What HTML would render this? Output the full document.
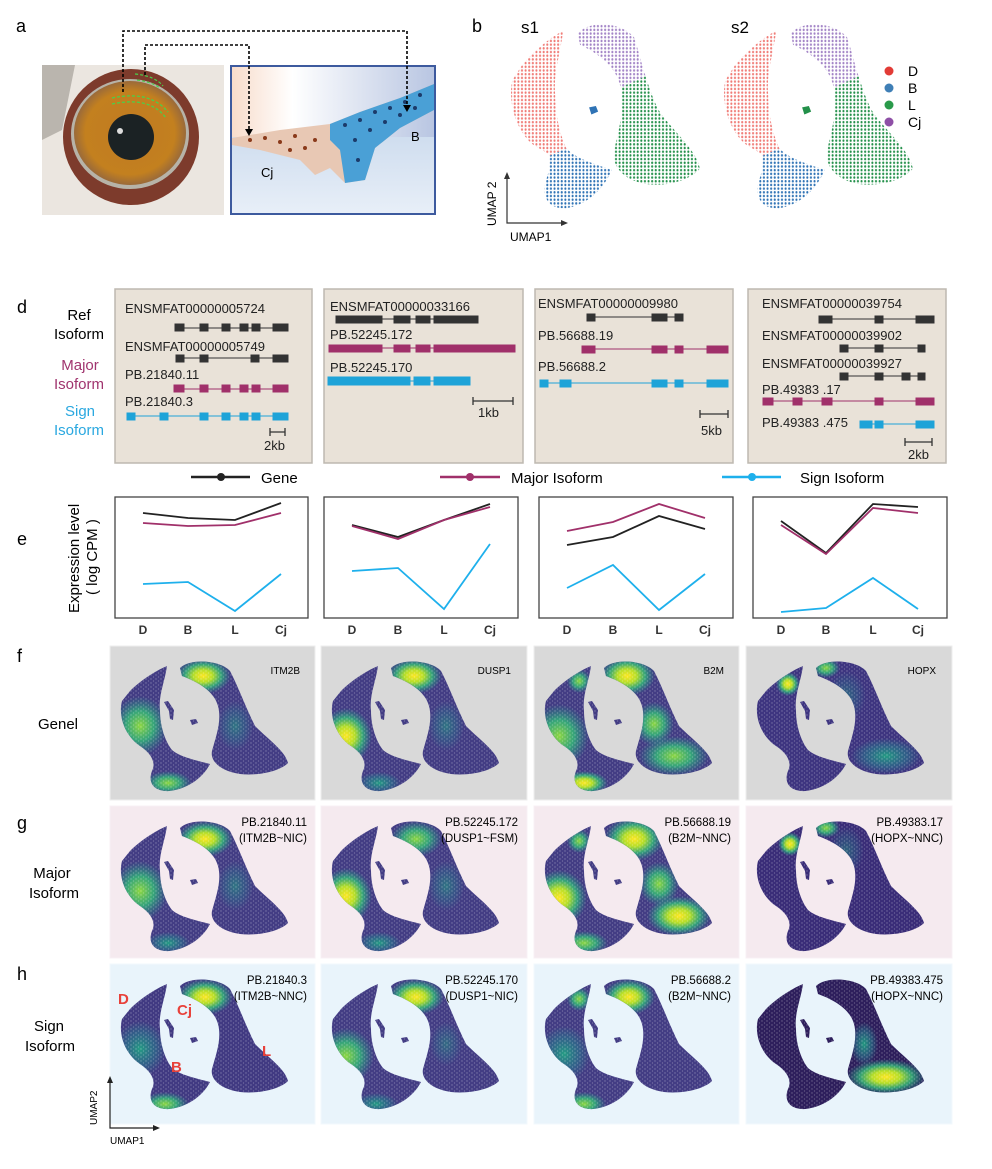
<!DOCTYPE html>
<html><head><meta charset="utf-8"><style>
html,body{margin:0;padding:0;background:#fff;}
svg{display:block;font-family:"Liberation Sans",Arial,sans-serif;}
</style></head><body>
<svg width="992" height="1169" viewBox="0 0 992 1169" xmlns="http://www.w3.org/2000/svg">
<defs>
  <path id="shape" d="M70,22 C80,12 110,14 120,25 C128,40 135,60 145,80 C160,95 175,105 178,117 C170,125 150,130 130,128 C110,125 100,115 102,105 C106,90 112,75 108,60 C104,45 88,36 72,30 Z
   M20,45 C30,35 45,25 57,20 C55,35 48,50 50,65 C50,80 55,95 62,104 C70,111 85,114 100,118 C95,128 82,142 60,145 C42,146 38,135 42,125 C46,117 42,108 30,100 C15,90 8,70 12,55 Z
   M54,56 L58,55 L64,64 L63,74 L60,73 L59,65 Z M80,74 L86,73 L88,77 L82,79 Z"/>
  <clipPath id="clip"><use href="#shape"/></clipPath>
  <path id="cCj" d="M70,22 C80,12 110,14 120,25 C124,35 127,45 130,52 L108,60 C104,45 88,36 72,30 Z"/>
  <path id="cL" d="M130,52 C135,65 140,75 145,80 C160,95 175,105 178,117 C170,125 150,130 130,128 C110,125 100,115 102,105 C106,90 112,75 108,60 Z"/>
  <path id="cD" d="M20,45 C30,35 45,25 57,20 C55,35 48,50 50,65 C50,80 55,95 60,103 L45,108 C40,104 35,103 30,100 C15,90 8,70 12,55 Z"/>
  <path id="cB" d="M60,103 C68,110 85,114 100,118 C95,128 82,142 60,145 C42,146 38,135 42,125 C46,117 45,110 45,108 Z"/>
  <pattern id="pD" width="3.2" height="2.6" patternUnits="userSpaceOnUse"><circle cx="1.4" cy="1.2" r="0.9" fill="#f07b76"/></pattern>
  <pattern id="pB" width="3.2" height="2.6" patternUnits="userSpaceOnUse"><circle cx="1.4" cy="1.2" r="0.9" fill="#2f73b5"/></pattern>
  <pattern id="pL" width="3.2" height="2.6" patternUnits="userSpaceOnUse"><circle cx="1.4" cy="1.2" r="0.9" fill="#23904a"/></pattern>
  <pattern id="pC" width="3.2" height="2.6" patternUnits="userSpaceOnUse"><circle cx="1.4" cy="1.2" r="0.9" fill="#a283c6"/></pattern>
  <pattern id="speck" width="5" height="4" patternUnits="userSpaceOnUse"><circle cx="1" cy="1" r="0.7" fill="#fff"/><circle cx="3.5" cy="3" r="0.6" fill="#fff"/></pattern>
  <radialGradient id="hot"><stop offset="0" stop-color="#fde725"/><stop offset="0.35" stop-color="#b5de2b"/><stop offset="0.65" stop-color="#35b779" stop-opacity="0.85"/><stop offset="1" stop-color="#21918c" stop-opacity="0"/></radialGradient>
  <radialGradient id="grn"><stop offset="0" stop-color="#8fd744"/><stop offset="0.5" stop-color="#35b779" stop-opacity="0.85"/><stop offset="1" stop-color="#21918c" stop-opacity="0"/></radialGradient>
  <radialGradient id="teal"><stop offset="0" stop-color="#22a884" stop-opacity="0.9"/><stop offset="0.6" stop-color="#2a788e" stop-opacity="0.6"/><stop offset="1" stop-color="#2a788e" stop-opacity="0"/></radialGradient>
  <linearGradient id="skyL" x1="0" x2="1"><stop offset="0" stop-color="#f8dccb"/><stop offset="0.3" stop-color="#ffffff"/><stop offset="1" stop-color="#b9c6e2"/></linearGradient>
  <linearGradient id="skyB" x1="0" x2="0" y1="0" y2="1"><stop offset="0" stop-color="#b8cde6"/><stop offset="1" stop-color="#e8eff8"/></linearGradient>
  <radialGradient id="iris"><stop offset="0" stop-color="#c07a22"/><stop offset="0.8" stop-color="#c3801f"/><stop offset="1" stop-color="#9a6a3a"/></radialGradient>
</defs>

<!-- panel a -->
<text x="16" y="32" font-size="18">a</text>
<rect x="42" y="65" width="182" height="150" fill="#ebe6e0"/>
<path d="M42,65 L75,65 L62,130 L42,140 Z" fill="#8a847c" opacity="0.5"/>
<ellipse cx="131" cy="137" rx="68" ry="68" fill="#7d3b2c"/>
<ellipse cx="130" cy="134" rx="59" ry="55" fill="#b7b3a8"/>
<ellipse cx="130" cy="133" rx="56" ry="52" fill="url(#iris)"/>
<circle cx="131" cy="137" r="23" fill="#1b2224"/>
<circle cx="120" cy="131" r="3" fill="#ddd"/>
<path d="M112,98 Q150,90 168,112" fill="none" stroke="#4ad04a" stroke-width="1.3" stroke-dasharray="3,2"/>
<path d="M112,104 Q150,96 166,118" fill="none" stroke="#4ad04a" stroke-width="1.3" stroke-dasharray="3,2"/>
<path d="M135,74 Q155,76 163,86 M137,80 Q152,82 160,88" fill="none" stroke="#4ad04a" stroke-width="1.2" stroke-dasharray="3,2"/>
<rect x="231" y="66" width="204" height="148" fill="url(#skyB)" stroke="#3d5a9e" stroke-width="2"/>
<rect x="232" y="67" width="202" height="70" fill="url(#skyL)"/>
<path d="M232,138 L280,130 L330,124 L360,112 L400,98 L434,84 L434,110 L400,128 L375,148 L365,180 L345,183 L330,168 L315,175 L300,160 L260,150 L232,145 Z" fill="#e8c8b4"/>
<path d="M330,124 L360,112 L400,98 L434,84 L434,110 L400,128 L375,148 L365,180 L345,183 L340,150 L330,140 Z" fill="#4aa0d6"/>
<g fill="#8a3a1a"><circle cx="250" cy="140" r="2"/><circle cx="265" cy="138" r="2"/><circle cx="280" cy="142" r="2"/><circle cx="295" cy="136" r="2"/><circle cx="305" cy="148" r="2"/><circle cx="315" cy="140" r="2"/><circle cx="290" cy="150" r="2"/></g>
<g fill="#1c3b6a"><circle cx="345" cy="125" r="2"/><circle cx="360" cy="120" r="2"/><circle cx="375" cy="112" r="2"/><circle cx="390" cy="108" r="2"/><circle cx="405" cy="102" r="2"/><circle cx="420" cy="95" r="2"/><circle cx="355" cy="140" r="2"/><circle cx="370" cy="130" r="2"/><circle cx="385" cy="122" r="2"/><circle cx="400" cy="115" r="2"/><circle cx="415" cy="108" r="2"/><circle cx="358" cy="160" r="2"/></g>
<text x="261" y="177" font-size="13">Cj</text>
<text x="411" y="141" font-size="13">B</text>
<g fill="none" stroke="#000" stroke-width="1.6" stroke-dasharray="3,2">
<path d="M123,92 L123,31 L407,31 L407,105"/>
<path d="M145,75 L145,45 L249,45 L249,130"/>
</g>
<path d="M245,129 L253,129 L249,136 Z M403,105 L411,105 L407,112 Z" fill="#000"/>

<!-- panel b -->
<text x="472" y="32" font-size="18">b</text>
<text x="521" y="33" font-size="17">s1</text>
<text x="731" y="33" font-size="17">s2</text>
<g transform="translate(498.7,2.3) scale(1.13,1.42)">
<use href="#cD" fill="url(#pD)"/><use href="#cB" fill="url(#pB)"/><use href="#cL" fill="url(#pL)"/><use href="#cCj" fill="url(#pC)"/>
<path d="M80,74 L86,73 L88,77 L82,79 Z" fill="#2f73b5"/>
</g>
<g transform="translate(711.7,2.3) scale(1.13,1.42)">
<use href="#cD" fill="url(#pD)"/><use href="#cB" fill="url(#pB)"/><use href="#cL" fill="url(#pL)"/><use href="#cCj" fill="url(#pC)"/>
<path d="M80,74 L86,73 L88,77 L82,79 Z" fill="#23904a"/>
</g>
<g font-size="14">
<circle cx="889" cy="71" r="4.5" fill="#e23b36"/><text x="908" y="76">D</text>
<circle cx="889" cy="88" r="4.5" fill="#3f7fb6"/><text x="908" y="93">B</text>
<circle cx="889" cy="105" r="4.5" fill="#2a9a4a"/><text x="908" y="110">L</text>
<circle cx="889" cy="122" r="4.5" fill="#8e4fa6"/><text x="908" y="127">Cj</text>
</g>
<path d="M507,176 L507,223 L565,223" fill="none" stroke="#333" stroke-width="1.2"/>
<path d="M504,179 L507,172 L510,179 Z M561,220 L568,223 L561,226 Z" fill="#333"/>
<text transform="translate(496,226) rotate(-90)" font-size="12">UMAP 2</text>
<text x="510" y="241" font-size="12">UMAP1</text>

<!-- panel d -->
<text x="17" y="313" font-size="18">d</text>
<g font-size="15" text-anchor="middle">
<text x="79" y="320">Ref</text><text x="79" y="339">Isoform</text>
<text x="80" y="370" fill="#a0346e">Major</text><text x="79" y="389" fill="#a0346e">Isoform</text>
<text x="80" y="416" fill="#2aa8e0">Sign</text><text x="79" y="435" fill="#2aa8e0">Isoform</text>
</g>
<g fill="#e9e2d8" stroke="#bdb8b0" stroke-width="1.5">
<rect x="115" y="289" width="197" height="174"/>
<rect x="324" y="289" width="199" height="174"/>
<rect x="535" y="289" width="198" height="174"/>
<rect x="748" y="289" width="198" height="174"/>
</g>
<g font-size="13" fill="#222">
<text x="125" y="313">ENSMFAT00000005724</text>
<text x="125" y="351">ENSMFAT00000005749</text>
<text x="125" y="379">PB.21840.11</text>
<text x="125" y="406">PB.21840.3</text>
<text x="330" y="311">ENSMFAT00000033166</text>
<text x="330" y="339">PB.52245.172</text>
<text x="330" y="372">PB.52245.170</text>
<text x="538" y="308">ENSMFAT00000009980</text>
<text x="538" y="340">PB.56688.19</text>
<text x="538" y="371">PB.56688.2</text>
<text x="762" y="308">ENSMFAT00000039754</text>
<text x="762" y="340">ENSMFAT00000039902</text>
<text x="762" y="368">ENSMFAT00000039927</text>
<text x="762" y="394">PB.49383 .17</text>
<text x="762" y="427">PB.49383 .475</text>
<text x="264" y="450">2kb</text>
<text x="478" y="417">1kb</text>
<text x="701" y="435">5kb</text>
<text x="908" y="459">2kb</text>
</g>
<g stroke-width="1">
<g fill="#333" stroke="#333"><line x1="176" y1="328" x2="288" y2="328"/><rect x="175" y="324" width="9" height="7"/><rect x="200" y="324" width="8" height="7"/><rect x="222" y="324" width="8" height="7"/><rect x="240" y="324" width="8" height="7"/><rect x="252" y="324" width="8" height="7"/><rect x="273" y="324" width="15" height="7"/>
<line x1="176" y1="358" x2="288" y2="358"/><rect x="176" y="355" width="8" height="7"/><rect x="200" y="355" width="8" height="7"/><rect x="251" y="355" width="8" height="7"/><rect x="273" y="355" width="15" height="7"/></g>
<g fill="#a0306a" stroke="#a0306a"><line x1="174" y1="389" x2="288" y2="389"/><rect x="174" y="385" width="10" height="7"/><rect x="200" y="385" width="8" height="7"/><rect x="222" y="385" width="8" height="7"/><rect x="240" y="385" width="8" height="7"/><rect x="252" y="385" width="8" height="7"/><rect x="273" y="385" width="15" height="7"/></g>
<g fill="#1ea3d8" stroke="#1ea3d8"><line x1="127" y1="416" x2="288" y2="416"/><rect x="127" y="413" width="8" height="7"/><rect x="160" y="413" width="8" height="7"/><rect x="200" y="413" width="8" height="7"/><rect x="222" y="413" width="8" height="7"/><rect x="240" y="413" width="8" height="7"/><rect x="252" y="413" width="8" height="7"/><rect x="273" y="413" width="15" height="7"/></g>
<g fill="#333" stroke="#333"><line x1="336" y1="319" x2="478" y2="319"/><rect x="336" y="316" width="46" height="7"/><rect x="394" y="316" width="16" height="7"/><rect x="416" y="316" width="14" height="7"/><rect x="434" y="316" width="44" height="7"/></g>
<g fill="#a0306a" stroke="#a0306a"><line x1="329" y1="348" x2="515" y2="348"/><rect x="329" y="345" width="53" height="7"/><rect x="394" y="345" width="16" height="7"/><rect x="416" y="345" width="14" height="7"/><rect x="434" y="345" width="81" height="7"/></g>
<g fill="#1ea3d8" stroke="#1ea3d8"><line x1="328" y1="381" x2="470" y2="381"/><rect x="328" y="377" width="82" height="8"/><rect x="414" y="377" width="16" height="8"/><rect x="434" y="377" width="36" height="8"/></g>
<g fill="#333" stroke="#333"><line x1="587" y1="317" x2="683" y2="317"/><rect x="587" y="314" width="8" height="7"/><rect x="652" y="314" width="15" height="7"/><rect x="675" y="314" width="8" height="7"/></g>
<g fill="#a0306a" stroke="#a0306a"><line x1="582" y1="349" x2="728" y2="349"/><rect x="582" y="346" width="13" height="7"/><rect x="652" y="346" width="15" height="7"/><rect x="675" y="346" width="8" height="7"/><rect x="707" y="346" width="21" height="7"/></g>
<g fill="#1ea3d8" stroke="#1ea3d8"><line x1="540" y1="383" x2="728" y2="383"/><rect x="540" y="380" width="8" height="7"/><rect x="560" y="380" width="11" height="7"/><rect x="652" y="380" width="15" height="7"/><rect x="675" y="380" width="8" height="7"/><rect x="707" y="380" width="21" height="7"/></g>
<g fill="#333" stroke="#333"><line x1="819" y1="319" x2="934" y2="319"/><rect x="819" y="316" width="13" height="7"/><rect x="875" y="316" width="8" height="7"/><rect x="916" y="316" width="18" height="7"/>
<line x1="840" y1="348" x2="925" y2="348"/><rect x="840" y="345" width="8" height="7"/><rect x="875" y="345" width="8" height="7"/><rect x="918" y="345" width="7" height="7"/>
<line x1="840" y1="376" x2="925" y2="376"/><rect x="840" y="373" width="8" height="7"/><rect x="875" y="373" width="8" height="7"/><rect x="902" y="373" width="8" height="7"/><rect x="918" y="373" width="7" height="7"/></g>
<g fill="#a0306a" stroke="#a0306a"><line x1="763" y1="401" x2="934" y2="401"/><rect x="763" y="398" width="10" height="7"/><rect x="793" y="398" width="9" height="7"/><rect x="822" y="398" width="10" height="7"/><rect x="875" y="398" width="8" height="7"/><rect x="916" y="398" width="18" height="7"/></g>
<g fill="#1ea3d8" stroke="#1ea3d8"><line x1="860" y1="424" x2="934" y2="424"/><rect x="860" y="421" width="12" height="7"/><rect x="875" y="421" width="8" height="7"/><rect x="916" y="421" width="18" height="7"/></g>
</g>
<g stroke="#333" stroke-width="1.3" fill="none">
<path d="M270,428 V436 M270,432 H285 M285,428 V436"/>
<path d="M473,397 V405 M473,401 H513 M513,397 V405"/>
<path d="M700,410 V418 M700,414 H728 M728,410 V418"/>
<path d="M905,438 V446 M905,442 H932 M932,438 V446"/>
</g>
<g stroke-width="2.5">
<line x1="191" y1="477" x2="250" y2="477" stroke="#222"/><circle cx="221" cy="477" r="4" fill="#222"/>
<line x1="440" y1="477" x2="500" y2="477" stroke="#a0306a"/><circle cx="470" cy="477" r="4" fill="#a0306a"/>
<line x1="722" y1="477" x2="781" y2="477" stroke="#1eb0ec"/><circle cx="752" cy="477" r="4" fill="#1eb0ec"/>
</g>
<g font-size="15"><text x="261" y="483">Gene</text><text x="511" y="483">Major Isoform</text><text x="800" y="483">Sign Isoform</text></g>

<!-- panel e -->
<text x="17" y="545" font-size="18">e</text>
<text transform="translate(79,613) rotate(-90)" font-size="15">Expression level</text>
<text transform="translate(97,595) rotate(-90)" font-size="15">( log CPM )</text>
<g fill="#fff" stroke="#444" stroke-width="1.3">
<rect x="115" y="497" width="193" height="121"/><rect x="324" y="497" width="194" height="121"/><rect x="539" y="497" width="194" height="121"/><rect x="753" y="497" width="194" height="121"/>
</g>
<g fill="none" stroke-width="1.8">
<polyline stroke="#222" points="143,513 188,518 235,520 281,503"/>
<polyline stroke="#a0306a" points="143,523 188,526 235,525 281,513"/>
<polyline stroke="#1eb0ec" points="143,584 188,582 235,611 281,574"/>
<polyline stroke="#222" points="352,525 398,537 444,520 490,504"/>
<polyline stroke="#a0306a" points="352,526 398,539 444,520 490,507"/>
<polyline stroke="#1eb0ec" points="352,571 398,568 444,609 490,544"/>
<polyline stroke="#a0306a" points="567,531 613,522 659,504 705,518"/>
<polyline stroke="#222" points="567,545 613,537 659,516 705,529"/>
<polyline stroke="#1eb0ec" points="567,588 613,565 659,610 705,574"/>
<polyline stroke="#222" points="781,521 826,553 873,504 918,507"/>
<polyline stroke="#a0306a" points="781,525 826,554 873,508 918,513"/>
<polyline stroke="#1eb0ec" points="781,612 826,608 873,578 918,609"/>
</g>
<g font-size="12" text-anchor="middle" font-weight="bold" fill="#333">
<text x="143" y="634">D</text><text x="188" y="634">B</text><text x="235" y="634">L</text><text x="281" y="634">Cj</text>
<text x="352" y="634">D</text><text x="398" y="634">B</text><text x="444" y="634">L</text><text x="490" y="634">Cj</text>
<text x="567" y="634">D</text><text x="613" y="634">B</text><text x="659" y="634">L</text><text x="705" y="634">Cj</text>
<text x="781" y="634">D</text><text x="826" y="634">B</text><text x="873" y="634">L</text><text x="918" y="634">Cj</text>
</g>

<!-- panels f g h -->
<text x="17" y="662" font-size="18">f</text>
<text x="17" y="829" font-size="18">g</text>
<text x="17" y="980" font-size="18">h</text>
<g font-size="15" text-anchor="middle">
<text x="58" y="729">Genel</text>
<text x="52" y="878">Major</text><text x="54" y="898">Isoform</text>
<text x="49" y="1031">Sign</text><text x="50" y="1051">Isoform</text>
</g>

<g transform="translate(110,646)"><rect width="205" height="154" fill="#d9d9d9" stroke="#eee"/><use href="#shape" fill="#433d84"/>
<g clip-path="url(#clip)"><ellipse cx="93" cy="30" rx="28" ry="18" fill="url(#hot)"/><ellipse cx="30" cy="80" rx="28" ry="30" fill="url(#grn)"/><ellipse cx="58" cy="137" rx="24" ry="12" fill="url(#grn)"/><ellipse cx="125" cy="80" rx="18" ry="25" fill="url(#teal)" opacity="0.6"/><rect width="205" height="154" fill="url(#speck)" opacity="0.3"/></g>
<text x="190" y="28" font-size="10" text-anchor="end">ITM2B</text></g>
<g transform="translate(321,646)"><rect width="206" height="154" fill="#d9d9d9" stroke="#eee"/><use href="#shape" fill="#433d84"/>
<g clip-path="url(#clip)"><ellipse cx="93" cy="30" rx="28" ry="18" fill="url(#hot)"/><ellipse cx="25" cy="90" rx="26" ry="28" fill="url(#hot)"/><ellipse cx="58" cy="137" rx="22" ry="11" fill="url(#teal)"/><ellipse cx="125" cy="80" rx="18" ry="25" fill="url(#teal)" opacity="0.6"/><rect width="205" height="154" fill="url(#speck)" opacity="0.3"/></g>
<text x="190" y="28" font-size="10" text-anchor="end">DUSP1</text></g>
<g transform="translate(534,646)"><rect width="205" height="154" fill="#d9d9d9" stroke="#eee"/><use href="#shape" fill="#433d84"/>
<g clip-path="url(#clip)"><ellipse cx="93" cy="30" rx="28" ry="20" fill="url(#hot)"/><ellipse cx="25" cy="90" rx="30" ry="32" fill="url(#grn)"/><ellipse cx="45" cy="35" rx="12" ry="12" fill="url(#grn)"/><ellipse cx="50" cy="137" rx="24" ry="12" fill="url(#hot)"/><ellipse cx="120" cy="78" rx="20" ry="22" fill="url(#grn)"/><ellipse cx="140" cy="110" rx="35" ry="20" fill="url(#grn)"/><rect width="205" height="154" fill="url(#speck)" opacity="0.3"/></g>
<text x="190" y="28" font-size="10" text-anchor="end">B2M</text></g>
<g transform="translate(746,646)"><rect width="206" height="154" fill="#d9d9d9" stroke="#eee"/><use href="#shape" fill="#3e3580"/>
<g clip-path="url(#clip)"><ellipse cx="42" cy="38" rx="12" ry="12" fill="url(#hot)"/><ellipse cx="80" cy="22" rx="14" ry="10" fill="url(#grn)"/><ellipse cx="140" cy="110" rx="35" ry="18" fill="url(#teal)"/><ellipse cx="100" cy="50" rx="20" ry="25" fill="url(#teal)" opacity="0.5"/><rect width="205" height="154" fill="url(#speck)" opacity="0.3"/></g>
<text x="190" y="28" font-size="10" text-anchor="end">HOPX</text></g>

<g font-size="11.5" text-anchor="end">
<g transform="translate(110,806)"><rect width="205" height="152" fill="#f5eaef" stroke="#f8f0f4"/><use href="#shape" fill="#433d84"/>
<g clip-path="url(#clip)"><ellipse cx="95" cy="33" rx="28" ry="18" fill="url(#hot)"/><ellipse cx="30" cy="85" rx="28" ry="30" fill="url(#grn)"/><ellipse cx="58" cy="137" rx="22" ry="11" fill="url(#teal)"/><ellipse cx="125" cy="80" rx="18" ry="25" fill="url(#teal)" opacity="0.6"/><rect width="205" height="154" fill="url(#speck)" opacity="0.3"/></g>
<text x="197" y="20">PB.21840.11</text><text x="197" y="36">(ITM2B~NIC)</text></g>
<g transform="translate(321,806)"><rect width="206" height="152" fill="#f5eaef" stroke="#f8f0f4"/><use href="#shape" fill="#433d84"/>
<g clip-path="url(#clip)"><ellipse cx="95" cy="33" rx="26" ry="18" fill="url(#grn)"/><ellipse cx="25" cy="90" rx="26" ry="28" fill="url(#hot)"/><ellipse cx="58" cy="137" rx="22" ry="11" fill="url(#teal)"/><ellipse cx="125" cy="80" rx="18" ry="25" fill="url(#teal)" opacity="0.6"/><rect width="205" height="154" fill="url(#speck)" opacity="0.3"/></g>
<text x="197" y="20">PB.52245.172</text><text x="197" y="36">(DUSP1~FSM)</text></g>
<g transform="translate(534,806)"><rect width="205" height="152" fill="#f5eaef" stroke="#f8f0f4"/><use href="#shape" fill="#433d84"/>
<g clip-path="url(#clip)"><ellipse cx="100" cy="33" rx="30" ry="22" fill="url(#hot)"/><ellipse cx="25" cy="92" rx="28" ry="28" fill="url(#hot)"/><ellipse cx="45" cy="35" rx="12" ry="12" fill="url(#grn)"/><ellipse cx="50" cy="137" rx="24" ry="12" fill="url(#grn)"/><ellipse cx="125" cy="78" rx="20" ry="22" fill="url(#grn)"/><ellipse cx="145" cy="110" rx="32" ry="20" fill="url(#hot)"/><rect width="205" height="154" fill="url(#speck)" opacity="0.3"/></g>
<text x="197" y="20">PB.56688.19</text><text x="197" y="36">(B2M~NNC)</text></g>
<g transform="translate(746,806)"><rect width="206" height="152" fill="#f5eaef" stroke="#f8f0f4"/><use href="#shape" fill="#3a2d78"/>
<g clip-path="url(#clip)"><ellipse cx="44" cy="38" rx="12" ry="12" fill="url(#hot)"/><ellipse cx="80" cy="22" rx="14" ry="10" fill="url(#grn)"/><ellipse cx="100" cy="45" rx="18" ry="25" fill="url(#teal)" opacity="0.5"/><rect width="205" height="154" fill="url(#speck)" opacity="0.3"/></g>
<text x="197" y="20">PB.49383.17</text><text x="197" y="36">(HOPX~NNC)</text></g>

<g transform="translate(110,964)"><rect width="205" height="160" fill="#e9f4fb" stroke="#f2f8fc"/><use href="#shape" fill="#413a82"/>
<g clip-path="url(#clip)"><ellipse cx="95" cy="33" rx="28" ry="18" fill="url(#hot)"/><ellipse cx="30" cy="85" rx="26" ry="28" fill="url(#teal)"/><ellipse cx="55" cy="140" rx="24" ry="12" fill="url(#grn)"/><rect width="205" height="160" fill="url(#speck)" opacity="0.3"/></g>
<text x="197" y="20">PB.21840.3</text><text x="197" y="36">(ITM2B~NNC)</text>
<g fill="#e8413a" font-weight="bold" font-size="15" text-anchor="start"><text x="8" y="40">D</text><text x="67" y="51">Cj</text><text x="61" y="108">B</text><text x="152" y="92">L</text></g></g>
<g transform="translate(321,964)"><rect width="206" height="160" fill="#e9f4fb" stroke="#f2f8fc"/><use href="#shape" fill="#433d84"/>
<g clip-path="url(#clip)"><ellipse cx="95" cy="33" rx="28" ry="18" fill="url(#hot)"/><ellipse cx="25" cy="92" rx="28" ry="28" fill="url(#grn)"/><ellipse cx="55" cy="140" rx="22" ry="11" fill="url(#teal)"/><ellipse cx="125" cy="80" rx="16" ry="22" fill="url(#teal)" opacity="0.5"/><rect width="205" height="160" fill="url(#speck)" opacity="0.3"/></g>
<text x="197" y="20">PB.52245.170</text><text x="197" y="36">(DUSP1~NIC)</text></g>
<g transform="translate(534,964)"><rect width="205" height="160" fill="#e9f4fb" stroke="#f2f8fc"/><use href="#shape" fill="#433d84"/>
<g clip-path="url(#clip)"><ellipse cx="95" cy="33" rx="26" ry="18" fill="url(#hot)"/><ellipse cx="30" cy="90" rx="26" ry="28" fill="url(#teal)"/><ellipse cx="45" cy="35" rx="12" ry="12" fill="url(#grn)"/><ellipse cx="50" cy="140" rx="22" ry="12" fill="url(#grn)"/><rect width="205" height="160" fill="url(#speck)" opacity="0.3"/></g>
<text x="197" y="20">PB.56688.2</text><text x="197" y="36">(B2M~NNC)</text></g>
<g transform="translate(746,964)"><rect width="206" height="160" fill="#e9f4fb" stroke="#f2f8fc"/><use href="#shape" fill="#2e1f5c"/>
<g clip-path="url(#clip)"><ellipse cx="140" cy="113" rx="40" ry="18" fill="url(#hot)"/><ellipse cx="118" cy="80" rx="14" ry="22" fill="url(#teal)"/><rect width="205" height="160" fill="url(#speck)" opacity="0.3"/></g>
<text x="197" y="20">PB.49383.475</text><text x="197" y="36">(HOPX~NNC)</text></g>
</g>

<path d="M110,1080 L110,1128 L156,1128" fill="none" stroke="#222" stroke-width="1.2"/>
<path d="M107,1083 L110,1076 L113,1083 Z M153,1125 L160,1128 L153,1131 Z" fill="#222"/>
<text transform="translate(97,1125) rotate(-90)" font-size="10">UMAP2</text>
<text x="110" y="1144" font-size="10">UMAP1</text>
</svg>
</body></html>
